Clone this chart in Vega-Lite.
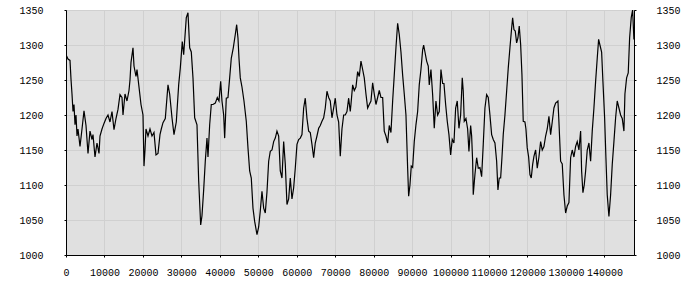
{
  "$schema": "https://vega.github.io/schema/vega-lite/v6.json",
  "width": 568,
  "height": 245,
  "autosize": "none",
  "padding": {"left": 66, "top": 10, "right": 66, "bottom": 45},
  "background": "white",
  "config": {
    "view": {"fill": "#e0e0e0", "stroke": "#000000", "strokeWidth": 1},
    "axis": {
      "labelFont": "Liberation Mono",
      "labelFontSize": 10,
      "labelColor": "#000000",
      "gridColor": "#d0d0d0",
      "gridWidth": 1,
      "domainColor": "#000000",
      "tickColor": "#000000",
      "tickSize": 2,
      "title": null
    }
  },
  "data": {
    "values": [
      {"x": 0, "v": 1286}, {"x": 520, "v": 1280}, {"x": 1040, "v": 1278}, {"x": 1300, "v": 1251},
      {"x": 1560, "v": 1230}, {"x": 1820, "v": 1205}, {"x": 2080, "v": 1215}, {"x": 2340, "v": 1186},
      {"x": 2600, "v": 1200}, {"x": 2860, "v": 1170}, {"x": 3120, "v": 1180}, {"x": 3640, "v": 1155},
      {"x": 4160, "v": 1180}, {"x": 4680, "v": 1206}, {"x": 5200, "v": 1185}, {"x": 5720, "v": 1145},
      {"x": 6240, "v": 1177}, {"x": 6760, "v": 1165}, {"x": 7020, "v": 1172}, {"x": 7540, "v": 1140},
      {"x": 8060, "v": 1160}, {"x": 8580, "v": 1145}, {"x": 8840, "v": 1170}, {"x": 9360, "v": 1180},
      {"x": 9880, "v": 1188}, {"x": 10400, "v": 1195}, {"x": 10920, "v": 1200}, {"x": 11440, "v": 1190},
      {"x": 11960, "v": 1205}, {"x": 12480, "v": 1179}, {"x": 13000, "v": 1195}, {"x": 13520, "v": 1208},
      {"x": 14040, "v": 1229}, {"x": 14560, "v": 1225}, {"x": 14820, "v": 1200}, {"x": 15340, "v": 1230},
      {"x": 15860, "v": 1220}, {"x": 16380, "v": 1235}, {"x": 16640, "v": 1250}, {"x": 16900, "v": 1275},
      {"x": 17420, "v": 1296}, {"x": 17680, "v": 1270}, {"x": 18200, "v": 1255}, {"x": 18460, "v": 1265},
      {"x": 18980, "v": 1240}, {"x": 19500, "v": 1215}, {"x": 20020, "v": 1200}, {"x": 20280, "v": 1127},
      {"x": 20540, "v": 1150}, {"x": 20800, "v": 1180}, {"x": 21320, "v": 1170}, {"x": 21840, "v": 1180},
      {"x": 22360, "v": 1170}, {"x": 22880, "v": 1175}, {"x": 23400, "v": 1143}, {"x": 23920, "v": 1145},
      {"x": 24440, "v": 1172}, {"x": 24780, "v": 1180}, {"x": 25220, "v": 1189}, {"x": 25820, "v": 1195},
      {"x": 26520, "v": 1243}, {"x": 26960, "v": 1230}, {"x": 27560, "v": 1196}, {"x": 28080, "v": 1172},
      {"x": 28680, "v": 1190}, {"x": 29300, "v": 1243}, {"x": 29720, "v": 1267}, {"x": 30240, "v": 1305},
      {"x": 30600, "v": 1286}, {"x": 31280, "v": 1339}, {"x": 31720, "v": 1346}, {"x": 32160, "v": 1296},
      {"x": 32580, "v": 1290}, {"x": 33020, "v": 1253}, {"x": 33460, "v": 1196}, {"x": 34060, "v": 1186},
      {"x": 34500, "v": 1106}, {"x": 35020, "v": 1043}, {"x": 35360, "v": 1056}, {"x": 35800, "v": 1093},
      {"x": 36220, "v": 1134}, {"x": 36660, "v": 1167}, {"x": 36920, "v": 1140}, {"x": 37360, "v": 1186},
      {"x": 37780, "v": 1215}, {"x": 38220, "v": 1215}, {"x": 38820, "v": 1217}, {"x": 39340, "v": 1225},
      {"x": 39780, "v": 1220}, {"x": 40220, "v": 1248}, {"x": 40560, "v": 1220}, {"x": 41000, "v": 1200},
      {"x": 41260, "v": 1167}, {"x": 41680, "v": 1224}, {"x": 42120, "v": 1225}, {"x": 42560, "v": 1253},
      {"x": 42980, "v": 1281}, {"x": 43500, "v": 1296}, {"x": 44020, "v": 1315}, {"x": 44380, "v": 1329},
      {"x": 44720, "v": 1310}, {"x": 44980, "v": 1281}, {"x": 45320, "v": 1253}, {"x": 45760, "v": 1240},
      {"x": 46280, "v": 1220}, {"x": 46880, "v": 1191}, {"x": 47320, "v": 1153}, {"x": 47760, "v": 1120},
      {"x": 48180, "v": 1110}, {"x": 48620, "v": 1067}, {"x": 49060, "v": 1048}, {"x": 49660, "v": 1029},
      {"x": 50100, "v": 1040}, {"x": 50520, "v": 1063}, {"x": 50960, "v": 1091}, {"x": 51400, "v": 1067},
      {"x": 51820, "v": 1060}, {"x": 52260, "v": 1090}, {"x": 52700, "v": 1134}, {"x": 53120, "v": 1148},
      {"x": 53560, "v": 1150}, {"x": 54000, "v": 1162}, {"x": 54420, "v": 1167}, {"x": 54860, "v": 1177},
      {"x": 55300, "v": 1170}, {"x": 55720, "v": 1120}, {"x": 56160, "v": 1110}, {"x": 56600, "v": 1162},
      {"x": 57020, "v": 1130}, {"x": 57460, "v": 1072}, {"x": 57900, "v": 1080}, {"x": 58320, "v": 1110},
      {"x": 58760, "v": 1080}, {"x": 59200, "v": 1096}, {"x": 59620, "v": 1124}, {"x": 60060, "v": 1158},
      {"x": 60500, "v": 1165}, {"x": 60920, "v": 1167}, {"x": 61360, "v": 1172}, {"x": 61800, "v": 1210},
      {"x": 62220, "v": 1224}, {"x": 62660, "v": 1195}, {"x": 63100, "v": 1177}, {"x": 63520, "v": 1175},
      {"x": 63960, "v": 1158}, {"x": 64400, "v": 1139}, {"x": 64820, "v": 1160}, {"x": 65260, "v": 1170},
      {"x": 65700, "v": 1181}, {"x": 66120, "v": 1185}, {"x": 66560, "v": 1191}, {"x": 67000, "v": 1196},
      {"x": 67420, "v": 1210}, {"x": 67860, "v": 1234}, {"x": 68300, "v": 1225}, {"x": 68720, "v": 1220},
      {"x": 69160, "v": 1196}, {"x": 69600, "v": 1210}, {"x": 70020, "v": 1224}, {"x": 70460, "v": 1200},
      {"x": 70900, "v": 1190}, {"x": 71320, "v": 1141}, {"x": 71760, "v": 1180}, {"x": 72200, "v": 1200},
      {"x": 72620, "v": 1200}, {"x": 73060, "v": 1205}, {"x": 73500, "v": 1224}, {"x": 73920, "v": 1205},
      {"x": 74100, "v": 1215}, {"x": 74540, "v": 1243}, {"x": 74960, "v": 1235}, {"x": 75400, "v": 1240},
      {"x": 75840, "v": 1262}, {"x": 76260, "v": 1255}, {"x": 76700, "v": 1277}, {"x": 77140, "v": 1265},
      {"x": 77560, "v": 1253}, {"x": 78000, "v": 1230}, {"x": 78440, "v": 1210}, {"x": 78860, "v": 1215},
      {"x": 79300, "v": 1220}, {"x": 79740, "v": 1246}, {"x": 80160, "v": 1230}, {"x": 80600, "v": 1215},
      {"x": 81040, "v": 1225}, {"x": 81460, "v": 1235}, {"x": 81900, "v": 1225}, {"x": 82340, "v": 1225},
      {"x": 82760, "v": 1177}, {"x": 83200, "v": 1170}, {"x": 83640, "v": 1160}, {"x": 84060, "v": 1185},
      {"x": 84500, "v": 1175}, {"x": 84940, "v": 1220}, {"x": 85360, "v": 1257}, {"x": 85800, "v": 1296},
      {"x": 86240, "v": 1331}, {"x": 86660, "v": 1315}, {"x": 87100, "v": 1290}, {"x": 87540, "v": 1257},
      {"x": 87960, "v": 1230}, {"x": 88400, "v": 1200}, {"x": 88840, "v": 1124}, {"x": 89100, "v": 1084},
      {"x": 89440, "v": 1100}, {"x": 89780, "v": 1127}, {"x": 90140, "v": 1125}, {"x": 90560, "v": 1162},
      {"x": 91000, "v": 1186}, {"x": 91440, "v": 1205}, {"x": 91860, "v": 1243}, {"x": 92300, "v": 1265},
      {"x": 92740, "v": 1293}, {"x": 93000, "v": 1300}, {"x": 93340, "v": 1290}, {"x": 93780, "v": 1277},
      {"x": 94200, "v": 1270}, {"x": 94460, "v": 1243}, {"x": 94900, "v": 1265}, {"x": 95340, "v": 1229},
      {"x": 95760, "v": 1181}, {"x": 96200, "v": 1220}, {"x": 96640, "v": 1200}, {"x": 97060, "v": 1205},
      {"x": 97500, "v": 1265}, {"x": 97940, "v": 1245}, {"x": 98280, "v": 1245}, {"x": 98720, "v": 1215},
      {"x": 99140, "v": 1191}, {"x": 99580, "v": 1172}, {"x": 100020, "v": 1143}, {"x": 100440, "v": 1165},
      {"x": 100880, "v": 1160}, {"x": 101320, "v": 1210}, {"x": 101740, "v": 1220}, {"x": 102180, "v": 1181},
      {"x": 102620, "v": 1200}, {"x": 103040, "v": 1253}, {"x": 103300, "v": 1234}, {"x": 103560, "v": 1191},
      {"x": 104000, "v": 1195}, {"x": 104440, "v": 1180}, {"x": 104780, "v": 1148}, {"x": 105220, "v": 1185},
      {"x": 105480, "v": 1170}, {"x": 105740, "v": 1134}, {"x": 105900, "v": 1086}, {"x": 106340, "v": 1115},
      {"x": 106780, "v": 1139}, {"x": 107200, "v": 1124}, {"x": 107640, "v": 1125}, {"x": 108080, "v": 1112},
      {"x": 108500, "v": 1158}, {"x": 108940, "v": 1210}, {"x": 109380, "v": 1229}, {"x": 109800, "v": 1225},
      {"x": 110240, "v": 1200}, {"x": 110680, "v": 1172}, {"x": 111100, "v": 1165}, {"x": 111540, "v": 1160},
      {"x": 111980, "v": 1134}, {"x": 112320, "v": 1093}, {"x": 112660, "v": 1110}, {"x": 113020, "v": 1110},
      {"x": 113360, "v": 1139}, {"x": 113700, "v": 1172}, {"x": 114140, "v": 1200}, {"x": 114580, "v": 1234},
      {"x": 115000, "v": 1267}, {"x": 115440, "v": 1296}, {"x": 115880, "v": 1324}, {"x": 116140, "v": 1339},
      {"x": 116480, "v": 1322}, {"x": 116820, "v": 1320}, {"x": 117180, "v": 1303}, {"x": 117520, "v": 1310},
      {"x": 117860, "v": 1327}, {"x": 118220, "v": 1301}, {"x": 118560, "v": 1258}, {"x": 118900, "v": 1191},
      {"x": 119340, "v": 1190}, {"x": 119600, "v": 1180}, {"x": 119940, "v": 1153}, {"x": 120300, "v": 1140},
      {"x": 120640, "v": 1115}, {"x": 120980, "v": 1110}, {"x": 121340, "v": 1129}, {"x": 121680, "v": 1141},
      {"x": 122120, "v": 1150}, {"x": 122540, "v": 1124}, {"x": 122980, "v": 1140}, {"x": 123420, "v": 1162},
      {"x": 123840, "v": 1150}, {"x": 124280, "v": 1155}, {"x": 124720, "v": 1170}, {"x": 125140, "v": 1180},
      {"x": 125580, "v": 1198}, {"x": 126020, "v": 1172}, {"x": 126440, "v": 1190}, {"x": 126880, "v": 1210},
      {"x": 127320, "v": 1217}, {"x": 127920, "v": 1220}, {"x": 128180, "v": 1190}, {"x": 128620, "v": 1134},
      {"x": 129040, "v": 1130}, {"x": 129480, "v": 1086}, {"x": 129920, "v": 1060}, {"x": 130340, "v": 1070},
      {"x": 130780, "v": 1075}, {"x": 131220, "v": 1139}, {"x": 131640, "v": 1150}, {"x": 132080, "v": 1140},
      {"x": 132520, "v": 1155}, {"x": 132940, "v": 1162}, {"x": 133380, "v": 1150}, {"x": 133820, "v": 1177},
      {"x": 134080, "v": 1120}, {"x": 134420, "v": 1089}, {"x": 134760, "v": 1100}, {"x": 135120, "v": 1120},
      {"x": 135540, "v": 1150}, {"x": 135980, "v": 1160}, {"x": 136420, "v": 1134}, {"x": 136840, "v": 1177},
      {"x": 137280, "v": 1210}, {"x": 137720, "v": 1248}, {"x": 138140, "v": 1281}, {"x": 138500, "v": 1308},
      {"x": 138840, "v": 1300}, {"x": 139280, "v": 1290}, {"x": 139620, "v": 1248}, {"x": 140060, "v": 1196},
      {"x": 140400, "v": 1139}, {"x": 140740, "v": 1086}, {"x": 141180, "v": 1055}, {"x": 141620, "v": 1086},
      {"x": 142040, "v": 1129}, {"x": 142480, "v": 1162}, {"x": 142920, "v": 1196}, {"x": 143340, "v": 1220},
      {"x": 143780, "v": 1210}, {"x": 144220, "v": 1200}, {"x": 144640, "v": 1195}, {"x": 145080, "v": 1177},
      {"x": 145340, "v": 1230}, {"x": 145780, "v": 1253}, {"x": 146200, "v": 1260}, {"x": 146560, "v": 1310},
      {"x": 146980, "v": 1339}, {"x": 147340, "v": 1350}, {"x": 147680, "v": 1308}
    ]
  },
  "layer": [
    {
      "mark": {"type": "line", "color": "#000000", "strokeWidth": 1.2, "clip": true},
      "encoding": {
        "x": {
          "field": "x", "type": "quantitative",
          "scale": {"domain": [0, 147700], "nice": false, "zero": false},
          "axis": {"values": [0, 10000, 20000, 30000, 40000, 50000, 60000, 70000, 80000, 90000, 100000, 110000, 120000, 130000, 140000], "format": "d", "labelPadding": 10, "labelFlush": false, "labelOverlap": false}
        },
        "y": {
          "field": "v", "type": "quantitative",
          "scale": {"domain": [1000, 1350], "nice": false, "zero": false},
          "axis": {"values": [1000, 1050, 1100, 1150, 1200, 1250, 1300, 1350], "format": "d", "labelPadding": 21, "labelFlush": false}
        }
      }
    },
    {
      "mark": {"type": "line", "opacity": 0},
      "encoding": {
        "x": {"field": "x", "type": "quantitative"},
        "y": {
          "field": "v", "type": "quantitative",
          "axis": {"orient": "right", "values": [1000, 1050, 1100, 1150, 1200, 1250, 1300, 1350], "format": "d", "labelPadding": 20, "labelFlush": false, "grid": false}
        }
      }
    }
  ],
  "resolve": {"scale": {"y": "shared"}, "axis": {"y": "independent"}}
}
